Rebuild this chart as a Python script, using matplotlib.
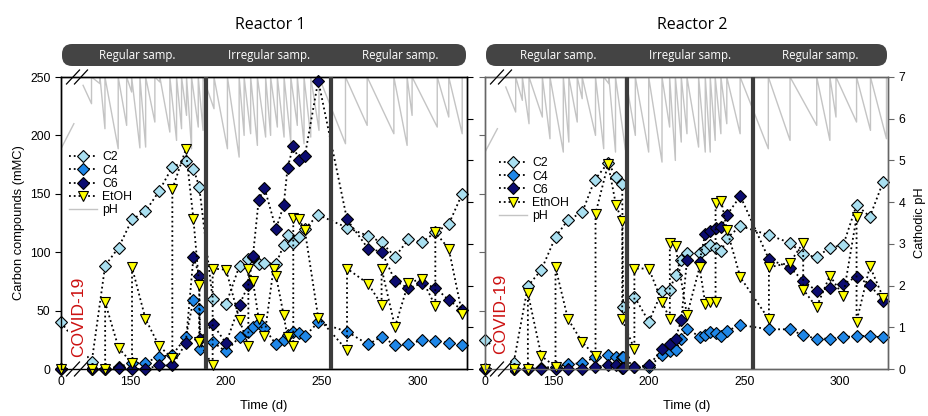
import numpy as np
import matplotlib
matplotlib.use('Agg')
import matplotlib.pyplot as plt
from matplotlib.patches import FancyBboxPatch, Rectangle

plt.rcParams['font.family'] = ['Liberation Sans', 'DejaVu Sans']

# ---------------- data (days, values) ----------------
# Reactor 1
r1_days = [0, 130, 137, 144, 151, 158, 165, 172, 179, 183, 186, 186.5,
           193, 200, 207, 211.6, 214, 217, 220, 226, 230, 232, 235, 238, 241, 248,
           263, 274, 281, 288, 295, 302, 309, 316, 323]
r1_c2_days = [0, 130, 137, 144, 151, 158, 165, 172, 179, 183, 186,
              193, 200, 207, 211.6, 214, 217, 220, 226, 230, 232, 235, 238, 241, 248,
              263, 274, 281, 288, 295, 302, 309, 316, 323]
r1_c2 = [40, 6, 88.5, 104, 128, 135, 152, 173, 178, 171.5, 156,
         60, 55.6, 88.5, 94, 96, 90, 91, 90, 106, 115, 108, 113, 120, 132,
         121, 114, 108.5, 96, 111, 108.5, 117, 124, 150]
r1_c4 = [0, 0, 0, 2, 5, 5.5, 10.5, 12, 27, 59, 51, 17,
         23, 15, 27.5, 32, 36, 39.6, 35, 21, 25, 29, 32, 30.5, 28, 40,
         32, 21, 27.7, 20.5, 21, 25, 24, 22.5, 20.5]
r1_c6 = [0, 0, 0, 0.5, 0, 0, 3, 3, 22, 96, 80, 26,
         38.5, 22, 55, 72, 97, 145, 155, 120, 140, 172, 191, 179, 182, 247,
         128, 103, 100.5, 75.6, 69, 73.4, 69.6, 59, 50.5]
r1_etoh_days = [0, 130, 137, 137, 144, 151, 151, 158, 165, 172, 172, 179, 183, 186, 186,
                193, 193, 200, 207, 211.6, 211.6, 214, 217, 220, 224.7, 226, 230, 232, 235, 235,
                238, 241, 248,
                263, 263, 274, 281, 281, 288, 295, 302, 309, 309, 316, 323]
r1_etoh = [0, 0, 0, 57, 18, 5, 87, 43, 20, 9, 154, 188, 128, 72, 23,
           3, 86, 85, 42, 20, 86, 75, 43, 28, 86, 80, 46, 27, 20, 129,
           128, 119, 44,
           16, 86, 73, 55, 86, 36, 74, 77, 54, 117, 103, 47]
r1_ph_pre_days = [0, 6.7]
r1_ph_pre = [5.28, 5.88]
r1_ph_start = (125.5, 6.8)
r1_ph_jump_days = [129.9, 134.3, 136.9, 143.8, 148.2, 150.8, 155.1, 158.1, 162.9, 165.5,
                   170.7, 174.2, 176.8, 179.4, 182.0, 185.5, 188.0, 193.7, 200.7, 206.8,
                   209.4, 212.8, 216.3, 220.6, 223.2, 226.7, 230.2, 233.7, 237.1, 240.6,
                   244.1, 248.4, 262.2, 273.5, 287.4, 294.3, 296.9, 310, 316, 323]
r1_ph_lows = [6.36, 6.84, 5.76, 5.28, 5.84, 6.64, 5.30, 5.32, 5.92, 6.88,
              5.68, 5.48, 5.76, 6.08, 5.28, 5.80, 5.72, 6.24, 5.28, 5.08,
              5.60, 5.64, 5.36, 5.56, 5.60, 5.80, 5.56, 5.44, 5.84, 5.40,
              5.56, 5.72, 5.40, 5.84, 5.64, 5.36, 6.08, 5.80, 6.04, 5.64]
r1_phase_days = [189.5, 254.5]

# Reactor 2
r2_days = [0, 129, 136.5, 143.6, 151, 157.5, 165, 171.6, 178.6, 182.8, 186, 186.5,
           192.4, 200, 207, 211, 214, 217, 220, 226.6, 229.6, 232, 235, 238, 241, 248,
           263, 274, 281, 288, 295, 302, 309, 316, 323]
r2_c2 = [25, 5, 71, 85, 113, 127.6, 134, 162, 176.6, 164.6, 158, 53,
         62, 40.5, 67, 68, 80.5, 93, 99.6, 99.6, 103, 106, 104, 101, 112, 122.4,
         114.7, 108, 98.5, 95.6, 104, 106, 140.4, 130.4, 160.4]
r2_c4 = [0, 0, 0, 1, 2, 4, 5, 10, 12, 10, 10, 10,
         2, 2, 12, 15, 16, 26, 34.5, 27.7, 29.5, 32, 31, 28, 32.5, 37.7,
         34, 34, 28.8, 26, 26, 27, 28.5, 28, 27]
r2_c6 = [0, 0, 0, 0, 0, 0, 0, 2, 3, 3, 1, 1,
         2, 3, 17, 21, 26, 42, 93, 92, 116, 118, 120.4, 122, 132, 148,
         94, 86.8, 75.6, 66.8, 69.6, 72.5, 79, 72, 58.2]
r2_etoh_days = [0, 129, 136.5, 136.5, 143.6, 151, 151, 157.5, 165, 172, 172, 178.6, 182.8, 186, 186,
                192.4, 192.4, 200, 207, 211, 211, 214, 220, 226.6, 229.6, 232, 235, 235, 238, 241, 248,
                263, 263, 274, 281, 281, 288, 295, 302, 309, 309, 316, 323]
r2_etoh = [0, 0, 0, 65, 11, 2, 87, 43, 23, 11, 133, 175.5, 140, 127, 42.5,
           17, 86, 86, 57, 43, 108, 105, 46, 87, 56, 57, 57, 142, 144, 119, 78.5,
           42.5, 87, 91, 108, 68, 53, 80, 62.5, 130, 40.5, 88, 61]
r2_ph_pre_days = [0, 6.5]
r2_ph_pre = [5.2, 5.76]
r2_ph_start = (124.9, 6.76)
r2_ph_jump_days = [130.1, 133.6, 137.1, 144.1, 148.1, 155.1, 158.0, 162.4, 165.0, 172.0,
                   176.3, 179.0, 182.5, 187.7, 192.9, 199.9, 206.9, 210.9, 213.9, 217.0,
                   220.0, 226.1, 229.6, 232.2, 234.8, 237.8, 240.9, 247.9, 262.7, 274.1,
                   288.1, 295.0, 298.2, 309.0, 316.3, 324.7]
r2_ph_lows = [6.16, 6.44, 5.88, 6.04, 5.52, 5.20, 5.44, 5.92, 6.48, 5.60,
              5.28, 6.84, 5.20, 5.25, 5.60, 5.20, 4.96, 5.80, 5.00, 5.44,
              5.64, 5.32, 5.20, 5.20, 5.48, 5.64, 5.88, 5.64, 5.28, 5.48,
              5.84, 5.48, 6.04, 5.92, 5.72, 5.52]
r2_phase_days = [188.3, 254.7]

phases = ['Regular samp.', 'Irregular samp.', 'Regular samp.']

# ---------------- helpers ----------------
ZERO_POS = 114.0   # axis position used for day 0 (left of the break)


def pos(days):
    d = np.asarray(days, dtype=float)
    return np.where(d < 100, d + ZERO_POS, d)


def ph_trace(pre_days, pre_vals, start, jumps, lows, top=7.0):
    xs = list(pre_days) + [np.nan, start[0]]
    ys = list(pre_vals) + [np.nan, start[1]]
    for d, lo in zip(jumps, lows):
        xs += [d, d]
        ys += [lo, top]
    return pos(xs), np.array(ys)


dot = dict(linestyle=':', color='black', lw=1.3, mec='black', mew=0.8, clip_on=False)
styles = {
    'C2': dict(marker='D', ms=6.3, mfc='#a9dff0'),
    'C4': dict(marker='D', ms=6.3, mfc='#1f87e8'),
    'C6': dict(marker='D', ms=6.3, mfc='#0c0c70'),
    'EthOH': dict(marker='v', ms=7.3, mfc='#ffff00'),
}

fig = plt.figure(figsize=(9.29, 4.16), dpi=100)
W, H = 929, 416
boxes = [(61, 406), (485, 403)]
reactors = [
    dict(title='Reactor 1', days=r1_days, c2d=r1_c2_days, c2=r1_c2, c4=r1_c4, c6=r1_c6,
         ed=r1_etoh_days, e=r1_etoh, ph=(r1_ph_pre_days, r1_ph_pre, r1_ph_start,
                                         r1_ph_jump_days, r1_ph_lows),
         phase=r1_phase_days, spine='black', eth='EtOH',
         leg=(0.02, 0.745), covid=(0.043, 0.18), title_x=270, text_x=[137, 269, 400]),
    dict(title='Reactor 2', days=r2_days, c2d=r2_days, c2=r2_c2, c4=r2_c4, c6=r2_c6,
         ed=r2_etoh_days, e=r2_etoh, ph=(r2_ph_pre_days, r2_ph_pre, r2_ph_start,
                                         r2_ph_jump_days, r2_ph_lows),
         phase=r2_phase_days, spine='#666666', eth='EthOH',
         leg=(0.035, 0.725), covid=(0.038, 0.19), title_x=692, text_x=[558, 690, 820]),
]

for i, (r, (left, width)) in enumerate(zip(reactors, boxes)):
    ax = fig.add_axes([left / W, 47 / H, width / W, 292 / H])
    axp = ax.twinx()
    ax.set_zorder(axp.get_zorder() + 1)
    ax.patch.set_visible(False)

    # pH on the twin axis (behind the concentrations)
    px, py = ph_trace(*r['ph'])
    lph, = axp.plot(px, py, color='#c4c4c4', lw=1.0, label='pH')
    axp.set_ylim(0, 7)
    axp.set_yticks(range(0, 8))

    l2, = ax.plot(pos(r['c2d']), r['c2'], label='C2', **dot, **styles['C2'])
    l4, = ax.plot(pos(r['days']), r['c4'], label='C4', **dot, **styles['C4'])
    l6, = ax.plot(pos(r['days']), r['c6'], label='C6', **dot, **styles['C6'])
    le, = ax.plot(pos(r['ed']), r['e'], label=r['eth'], **dot, **styles['EthOH'])

    for d in r['phase']:
        ax.axvline(d, color='#3c3c3c', lw=3, zorder=2.6)

    # axis break: blank the gap and draw // marks
    ax.add_patch(Rectangle((117.5, -3), 9.8, 168, facecolor='white', edgecolor='none',
                           zorder=2.3, clip_on=False))
    for y0 in (0, 1):
        for off in (0, 8):
            xa = (5.5 + off) / width
            xb = (18.5 + off) / width
            ax.plot([xa, xb], [y0 - 7 / 292, y0 + 7 / 292], transform=ax.transAxes,
                    color='black', lw=0.9, clip_on=False, zorder=6)

    ax.set_xlim(ZERO_POS, 325.5)
    ax.set_ylim(0, 250)
    ax.set_xticks(pos([0, 150, 200, 250, 300]))
    ax.set_xticklabels(['0', '150', '200', '250', '300'])
    ax.set_yticks(range(0, 251, 50))
    ax.tick_params(axis='x', length=0, labelsize=8.8, pad=5)
    ax.tick_params(axis='y', length=4, labelsize=8.8, direction='out', colors=r['spine'],
                   labelcolor='black')
    axp.tick_params(axis='y', length=4, labelsize=8.8, direction='out', colors=r['spine'],
                    labelcolor='black')
    for a in (ax, axp):
        for s in a.spines.values():
            s.set_color(r['spine'])
            s.set_linewidth(1.0)
    ax.set_xlabel('Time (d)', fontsize=9.3, labelpad=9)
    if i == 0:
        ax.set_ylabel('Carbon compounds (mMC)', fontsize=9.3)
        axp.set_yticklabels([])
    else:
        ax.set_yticklabels([])
        axp.set_ylabel('Cathodic pH', fontsize=9.3, labelpad=6)

    ax.text(r['covid'][0], r['covid'][1], 'COVID-19', transform=ax.transAxes, rotation=90,
            color='#cc1111', fontsize=12.5, ha='center', va='center')

    ax.legend(handles=[l2, l4, l6, le, lph], loc='upper left', bbox_to_anchor=r['leg'],
              frameon=False, fontsize=8.8, handlelength=2.3, handletextpad=0.4,
              labelspacing=0.1, borderpad=0, borderaxespad=0)

    # title and sampling banner
    fig.text(r['title_x'] / W, 1 - 25 / H, r['title'], fontsize=11.5, family='Open Sans',
             ha='center', va='center')
    banner = FancyBboxPatch(((left + 1) / 100, (H - 66) / 100), (width - 2) / 100, 0.22,
                            boxstyle='round,pad=0,rounding_size=0.1',
                            transform=fig.dpi_scale_trans, facecolor='#444444',
                            edgecolor='none')
    fig.patches.append(banner)
    for tx, label in zip(r['text_x'], phases):
        fig.text(tx / W, 1 - 55 / H, label, fontsize=8.3, family='Open Sans', color='white',
                 ha='center', va='center')

fig.savefig('out.png', dpi=100)
